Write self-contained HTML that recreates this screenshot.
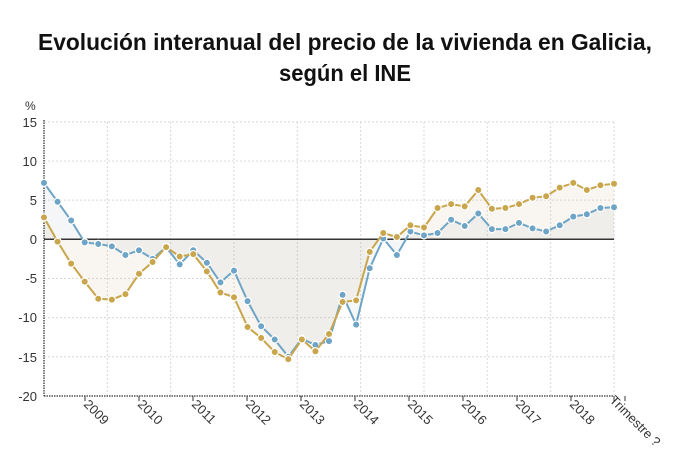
<!DOCTYPE html>
<html><head><meta charset="utf-8"><style>
html,body{margin:0;padding:0;background:#fff;width:690px;height:465px;overflow:hidden}
svg{display:block;font-family:"Liberation Sans",sans-serif}
.yl{font-size:13px;fill:#333;text-anchor:end}
.xl{font-size:13px;fill:#333}
</style></head><body>
<svg id="s" width="690" height="465" viewBox="0 0 690 465">
<text x="345" y="50" font-size="23" font-weight="bold" text-anchor="middle" textLength="614" lengthAdjust="spacingAndGlyphs" fill="#111">Evolución interanual del precio de la vivienda en Galicia,</text>
<text x="345" y="81" font-size="23" font-weight="bold" text-anchor="middle" textLength="132" lengthAdjust="spacingAndGlyphs" fill="#111">según el INE</text>
<text x="25" y="110" font-size="12" fill="#333">%</text>
<g id="grid"></g>
<g id="fills"></g>
<line x1="44" y1="239.3" x2="614" y2="239.3" stroke="#333" stroke-width="1.5"/>
<line x1="44" y1="120" x2="44" y2="396" stroke="#333" stroke-width="1.3" stroke-dasharray="1.5,1"/>
<line x1="44" y1="396" x2="614" y2="396" stroke="#333" stroke-width="1.3" stroke-dasharray="1.5,1"/>
<text class="yl" x="37" y="127">15</text>
<text class="yl" x="37" y="166">10</text>
<text class="yl" x="37" y="205">5</text>
<text class="yl" x="37" y="244">0</text>
<text class="yl" x="37" y="283">-5</text>
<text class="yl" x="37" y="322">-10</text>
<text class="yl" x="37" y="362">-15</text>
<text class="yl" x="37" y="401">-20</text>
<text class="xl" transform="translate(83,405) rotate(45)">2009</text>
<text class="xl" transform="translate(137,405) rotate(45)">2010</text>
<text class="xl" transform="translate(191,405) rotate(45)">2011</text>
<text class="xl" transform="translate(245,405) rotate(45)">2012</text>
<text class="xl" transform="translate(299,405) rotate(45)">2013</text>
<text class="xl" transform="translate(353,405) rotate(45)">2014</text>
<text class="xl" transform="translate(407,405) rotate(45)">2015</text>
<text class="xl" transform="translate(461,405) rotate(45)">2016</text>
<text class="xl" transform="translate(515,405) rotate(45)">2017</text>
<text class="xl" transform="translate(569,405) rotate(45)">2018</text>
<text class="xl" transform="translate(609,401) rotate(45)">Trimestre ?</text>
<g id="series"></g>
</svg>
<script>
var NS="http://www.w3.org/2000/svg";
function el(t,a,p){var e=document.createElementNS(NS,t);for(var k in a)e.setAttribute(k,a[k]);p.appendChild(e);return e;}
var g=document.getElementById("grid"),f=document.getElementById("fills"),s=document.getElementById("series");
function Y(v){return 239.3-v*7.83;}
for(var v=-15;v<=15;v+=5){if(v==0)continue;el("line",{x1:44,x2:614,y1:Y(v),y2:Y(v),stroke:"#d8d8d8","stroke-dasharray":"2,2"},g);}
for(var i=1;i<=9;i++){var x=44+i*63.33;el("line",{x1:x,x2:x,y1:122,y2:396,stroke:"#d8d8d8","stroke-dasharray":"2,2"},g);}
for(var i=0;i<11;i++){var x=85+i*54;el("line",{x1:x,x2:x,y1:396,y2:401,stroke:"#333"},g);}
el("line",{x1:614,x2:614,y1:396,y2:401,stroke:"#333"},g);
var blue=[7.2,4.8,2.4,-0.4,-0.6,-0.9,-2.0,-1.4,-2.5,-1.0,-3.2,-1.4,-3.0,-5.5,-4.0,-7.9,-11.1,-12.8,-15.0,-12.7,-13.5,-13.0,-7.1,-10.9,-3.7,0.1,-2.0,1.0,0.5,0.8,2.5,1.7,3.3,1.3,1.3,2.1,1.4,1.0,1.8,2.9,3.2,4.0,4.1];
var orange=[2.8,-0.3,-3.1,-5.4,-7.6,-7.7,-7.0,-4.4,-2.9,-1.0,-2.2,-1.9,-4.1,-6.8,-7.4,-11.2,-12.6,-14.4,-15.3,-12.8,-14.3,-12.1,-8.0,-7.8,-1.6,0.8,0.3,1.8,1.5,4.0,4.5,4.2,6.3,3.9,4.0,4.5,5.3,5.5,6.6,7.2,6.3,6.9,7.1];
var dx=570/42;
function draw(d,col,fill,op){
 var pts=d.map(function(v,i){return [44+i*dx,Y(v)];});
 var p=pts.map(function(q){return q[0].toFixed(1)+","+q[1].toFixed(1);}).join(" ");
 el("polygon",{points:"44,239.3 "+p+" 614,239.3",fill:fill,"fill-opacity":op},f);
 el("polyline",{points:p,fill:"none",stroke:col,"stroke-width":2},s);
 pts.forEach(function(q){el("circle",{cx:q[0],cy:q[1],r:3.6,fill:col,stroke:"#fff","stroke-width":1.2},s);});
}
draw(blue,"#6ea4c6","#8fa8b8",0.1);
draw(orange,"#c9a54c","#c0ab78",0.1);
</script>
</body></html>
